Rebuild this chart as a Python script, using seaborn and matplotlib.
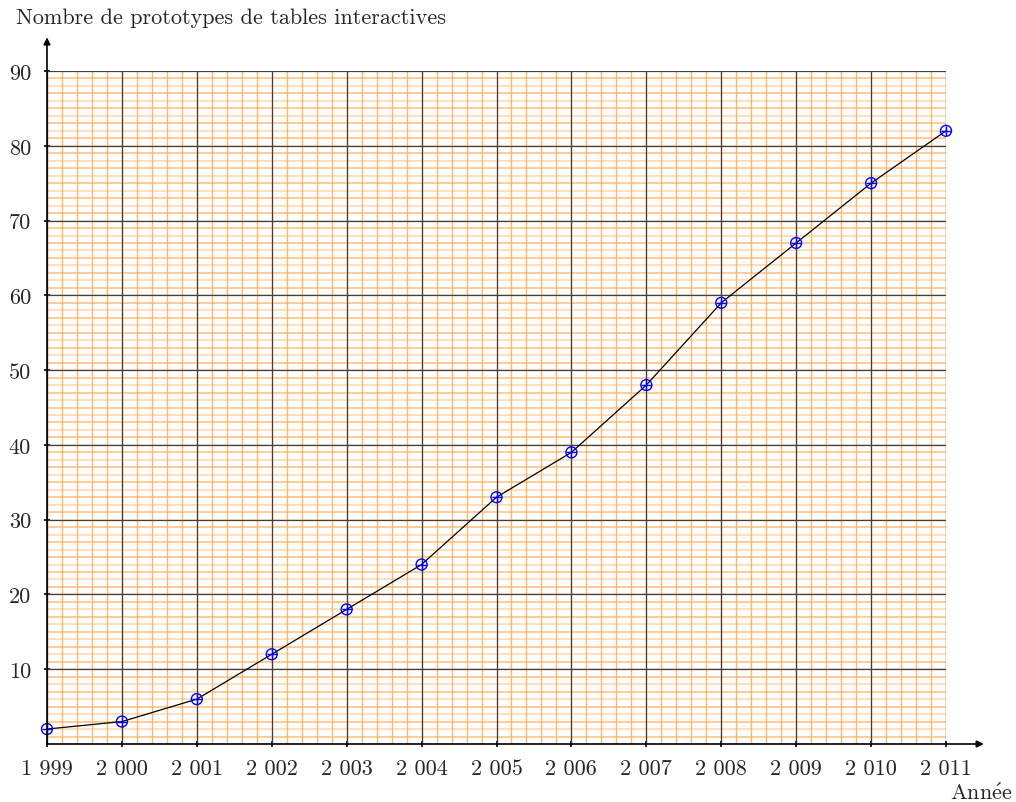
import matplotlib
matplotlib.use("Agg")
import matplotlib.pyplot as plt
import numpy as np
import pandas as pd
import seaborn as sns

# data
years = [1999, 2000, 2001, 2002, 2003, 2004, 2005, 2006, 2007, 2008, 2009, 2010, 2011]
prototypes = [2, 3, 6, 12, 18, 24, 33, 39, 48, 59, 67, 75, 82]
y_ticks = [10, 20, 30, 40, 50, 60, 70, 80, 90]
x_labels = ["1 999", "2 000", "2 001", "2 002", "2 003", "2 004", "2 005",
            "2 006", "2 007", "2 008", "2 009", "2 010", "2 011"]

df = pd.DataFrame({"Année": years, "Nombre": prototypes})

sns.set_theme(style="white")
plt.rcParams["font.family"] = ["cmr10", "DejaVu Serif"]
plt.rcParams["mathtext.fontset"] = "cm"
plt.rcParams["axes.formatter.use_mathtext"] = True

fig = plt.figure(figsize=(10.16, 8.03), dpi=100)
W, H = 1016, 803
ax = fig.add_axes([47 / W, (H - 745) / H, (946 - 47) / W, (745 - 72) / H])

ax.set_xlim(1999, 2011)
ax.set_ylim(0, 90)

# millimetre-paper style grid
orange = "#FFB466"
for xv in np.arange(1999, 2011.001, 0.2):
    ax.axvline(xv, color=orange, lw=1.0, zorder=0)
for yv in range(0, 91):
    ax.axhline(yv, color=orange, lw=1.2, alpha=0.5 if yv % 2 == 0 else 0.8, zorder=0)
for xv in years:
    ax.axvline(xv, color="#404040", lw=0.9, zorder=1)
for yv in y_ticks:
    ax.axhline(yv, color="#404040", lw=0.9, zorder=1)

sns.lineplot(data=df, x="Année", y="Nombre", color="black", lw=0.9, ax=ax, zorder=3)
ax.scatter(df["Année"], df["Nombre"], s=62, facecolors="none", edgecolors="blue",
           linewidths=1.0, zorder=4, clip_on=False)
ax.scatter(df["Année"], df["Nombre"], s=62, marker="+", color="blue",
           linewidths=1.0, zorder=4, clip_on=False)

for s in ["top", "right", "left", "bottom"]:
    ax.spines[s].set_visible(False)

# axes with arrows
ax.annotate("", xy=(0, 1.05), xytext=(0, 0), xycoords="axes fraction",
            arrowprops=dict(arrowstyle="-|>", color="black", lw=1.2,
                            mutation_scale=10, shrinkA=0, shrinkB=0),
            annotation_clip=False, zorder=5)
ax.annotate("", xy=(1.042, 0), xytext=(0, 0), xycoords="axes fraction",
            arrowprops=dict(arrowstyle="-|>", color="black", lw=1.2,
                            mutation_scale=10, shrinkA=0, shrinkB=0),
            annotation_clip=False, zorder=5)

ax.set_xticks(years)
ax.set_xticklabels(x_labels)
ax.set_yticks(y_ticks)
ax.set_yticklabels([str(v) for v in y_ticks])
ax.tick_params(axis="both", which="major", direction="inout", length=5, width=1.2,
               color="black", labelsize=16, bottom=True, left=True, pad=8)
ax.tick_params(axis="y", pad=9)
ax.set_xlabel("")
ax.set_ylabel("")

fig.text(16 / W, 1 - 18 / H, "Nombre de prototypes de tables interactives",
         fontsize=16, ha="left", va="center")
fig.text(1012 / W, 1 - 793 / H, r"Ann$\mathrm{\acute{e}}$e", fontsize=16,
         ha="right", va="center")

fig.savefig("out.png", dpi=100)
